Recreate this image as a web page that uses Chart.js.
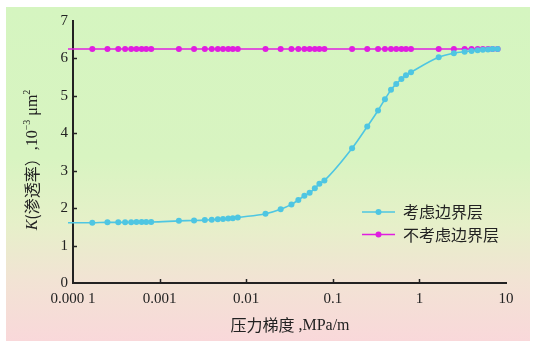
<!DOCTYPE html>
<html>
<head>
<meta charset="utf-8">
<script src="https://cdn.jsdelivr.net/npm/chart.js@4/dist/chart.umd.min.js"></script>
<style>
  html, body { margin: 0; padding: 0; background: #fff; }
  #wrap { position: relative; width: 533px; height: 341px; overflow: hidden; }
  #bg {
    position: absolute; left: 6px; top: 7px; width: 524px; height: 334px;
    background: linear-gradient(to bottom, #d5f5c0 0%, #d8f4c1 45%, #e6f0c9 65%, #f2e3d4 82%, #f9d8da 100%);
  }
  #chart { position: absolute; left: 0; top: 0; }
</style>
</head>
<body>
<div id="wrap">
  <div id="bg"></div>
  <canvas id="chart" width="533" height="341"></canvas>
</div>
<script>
// pressure gradient, MPa/m (first point only starts the line, no marker)
const gradient = [0.0000875, 0.000167, 0.00025, 0.000333, 0.0004, 0.00047, 0.00054, 0.00062, 0.0007, 0.0008,
    0.00167, 0.0025, 0.00333, 0.004, 0.0047, 0.0054, 0.0062, 0.007, 0.008,
    0.0167, 0.025, 0.0333, 0.04, 0.047, 0.054, 0.062, 0.07, 0.08,
    0.167, 0.25, 0.333, 0.4, 0.47, 0.54, 0.62, 0.7, 0.8,
    1.67, 2.5, 3.33, 4, 4.7, 5.4, 6.2, 7, 8];

// permeability, 10^-3 um^2
const withBoundary = [1.61, 1.61, 1.62, 1.62, 1.62, 1.62, 1.63, 1.63, 1.63, 1.63,
    1.66, 1.67, 1.68, 1.69, 1.70, 1.71, 1.72, 1.73, 1.75,
    1.85, 1.97, 2.10, 2.22, 2.33, 2.41, 2.53, 2.65, 2.74,
    3.60, 4.18, 4.61, 4.91, 5.16, 5.32, 5.45, 5.55, 5.63,
    6.03, 6.14, 6.18, 6.20, 6.22, 6.23, 6.24, 6.25, 6.25];
const withoutBoundary = [6.25, 6.25, 6.25, 6.25, 6.25, 6.25, 6.25, 6.25, 6.25, 6.25,
    6.25, 6.25, 6.25, 6.25, 6.25, 6.25, 6.25, 6.25, 6.25,
    6.25, 6.25, 6.25, 6.25, 6.25, 6.25, 6.25, 6.25, 6.25,
    6.25, 6.25, 6.25, 6.25, 6.25, 6.25, 6.25, 6.25, 6.25,
    6.25, 6.25, 6.25, 6.25, 6.25, 6.25, 6.25, 6.25, 6.25];

const seriesNames = ['考虑边界层', '不考虑边界层'];
const xTicks = [0.0001, 0.001, 0.01, 0.1, 1, 10];
const xTickLabels = ['0.000 1', '0.001', '0.01', '0.1', '1', '10'];
const yTicks = [0, 1, 2, 3, 4, 5, 6, 7];

const CYAN = '#4ec6e2';
const MAGENTA = '#e01ee0';
const INK = '#222';

function toPoints(ys) {
    return gradient.map((x, i) => ({ x: x, y: ys[i] }));
}

const markerRadius = ctx => ctx.dataIndex === 0 ? 0 : 3;

// inner tick marks, axis titles and legend
const decorPlugin = {
    id: 'decor',
    afterDraw(chart) {
        const ctx = chart.ctx;
        const xs = chart.scales.x, ys = chart.scales.y;
        const area = chart.chartArea;
        ctx.save();
        ctx.strokeStyle = INK;
        ctx.lineWidth = 1.5;
        xTicks.slice(1, -1).forEach(v => {
            const px = Math.round(xs.getPixelForValue(v)) + 0.5;
            ctx.beginPath();
            ctx.moveTo(px, area.bottom);
            ctx.lineTo(px, area.bottom - 4);
            ctx.stroke();
        });
        yTicks.slice(1, -1).forEach(v => {
            const py = Math.round(ys.getPixelForValue(v)) + 0.5;
            ctx.beginPath();
            ctx.moveTo(area.left, py);
            ctx.lineTo(area.left + 4, py);
            ctx.stroke();
        });

        // x title
        ctx.fillStyle = INK;
        ctx.textBaseline = 'middle';
        const cjk = '16px "Noto Sans CJK SC"';
        const serif = '16px "Liberation Serif"';
        ctx.font = cjk;
        const a = '压力梯度';
        const wa = ctx.measureText(a).width;
        ctx.font = serif;
        const b = ' ,MPa/m';
        const wb = ctx.measureText(b).width;
        let x0 = 290 - (wa + wb) / 2;
        ctx.font = cjk; ctx.fillText(a, x0, 325);
        ctx.font = serif; ctx.fillText(b, x0 + wa, 326);

        // y title, rotated
        const parts = [
            { t: 'K', f: 'italic 16px "Liberation Serif"', dy: 0 },
            { t: '(渗透率）', f: '16px "Noto Sans CJK SC"', dy: -1 },
            { t: ',10', f: '16px "Liberation Serif"', dy: 0 },
            { t: '−3', f: '10px "Liberation Serif"', dy: -6 },
            { t: ' μm', f: '16px "Liberation Serif"', dy: 0 },
            { t: '2', f: '10px "Liberation Serif"', dy: -6 }
        ];
        let total = 0;
        parts.forEach(p => { ctx.font = p.f; p.w = ctx.measureText(p.t).width; total += p.w; });
        ctx.translate(33, 160);
        ctx.rotate(-Math.PI / 2);
        let cx = -total / 2;
        parts.forEach(p => { ctx.font = p.f; ctx.fillText(p.t, cx, p.dy); cx += p.w; });
        ctx.setTransform(1, 0, 0, 1, 0, 0);

        // legend
        chart.data.datasets.forEach((ds, i) => {
            const ly = 212 + i * 22.5;
            ctx.strokeStyle = ds.borderColor;
            ctx.lineWidth = 1.5;
            ctx.beginPath();
            ctx.moveTo(362, ly);
            ctx.lineTo(395, ly);
            ctx.stroke();
            ctx.fillStyle = ds.borderColor;
            ctx.beginPath();
            ctx.arc(378.5, ly, 3, 0, Math.PI * 2);
            ctx.fill();
            ctx.fillStyle = INK;
            ctx.font = cjk;
            ctx.fillText(ds.label, 403, ly);
        });
        ctx.restore();
    }
};

new Chart(document.getElementById('chart'), {
    type: 'line',
    data: {
        datasets: [
            {
                label: seriesNames[0],
                data: toPoints(withBoundary),
                borderColor: CYAN,
                backgroundColor: CYAN,
                borderWidth: 1.6,
                pointRadius: markerRadius,
                pointBorderWidth: 0,
                cubicInterpolationMode: 'monotone',
                clip: false
            },
            {
                label: seriesNames[1],
                data: toPoints(withoutBoundary),
                borderColor: MAGENTA,
                backgroundColor: MAGENTA,
                borderWidth: 1.6,
                pointRadius: markerRadius,
                pointBorderWidth: 0,
                clip: false
            }
        ]
    },
    options: {
        responsive: false,
        animation: false,
        events: [],
        layout: { padding: { left: 0, top: 21, right: 27, bottom: 0 } },
        plugins: {
            legend: { display: false },
            tooltip: { enabled: false }
        },
        scales: {
            x: {
                type: 'logarithmic',
                min: 0.0001,
                max: 10,
                afterBuildTicks: scale => { scale.ticks = xTicks.map(v => ({ value: v })); },
                afterFit: scale => { scale.height = 58; },
                grid: { display: false, drawTicks: false },
                border: { display: true, color: INK, width: 2 },
                ticks: {
                    padding: 7,
                    color: INK,
                    font: { family: 'Liberation Serif', size: 15 },
                    maxRotation: 0,
                    autoSkip: false,
                    callback: (v) => {
                        const i = xTicks.indexOf(v);
                        return i >= 0 ? xTickLabels[i] : '';
                    }
                }
            },
            y: {
                min: 0,
                max: 7,
                afterBuildTicks: scale => { scale.ticks = yTicks.map(v => ({ value: v })); },
                afterFit: scale => { scale.width = 73; },
                grid: { display: false, drawTicks: false },
                border: { display: true, color: INK, width: 2 },
                ticks: {
                    padding: 5,
                    color: INK,
                    font: { family: 'Liberation Serif', size: 15 }
                }
            }
        }
    },
    plugins: [decorPlugin]
});
</script>
</body>
</html>
